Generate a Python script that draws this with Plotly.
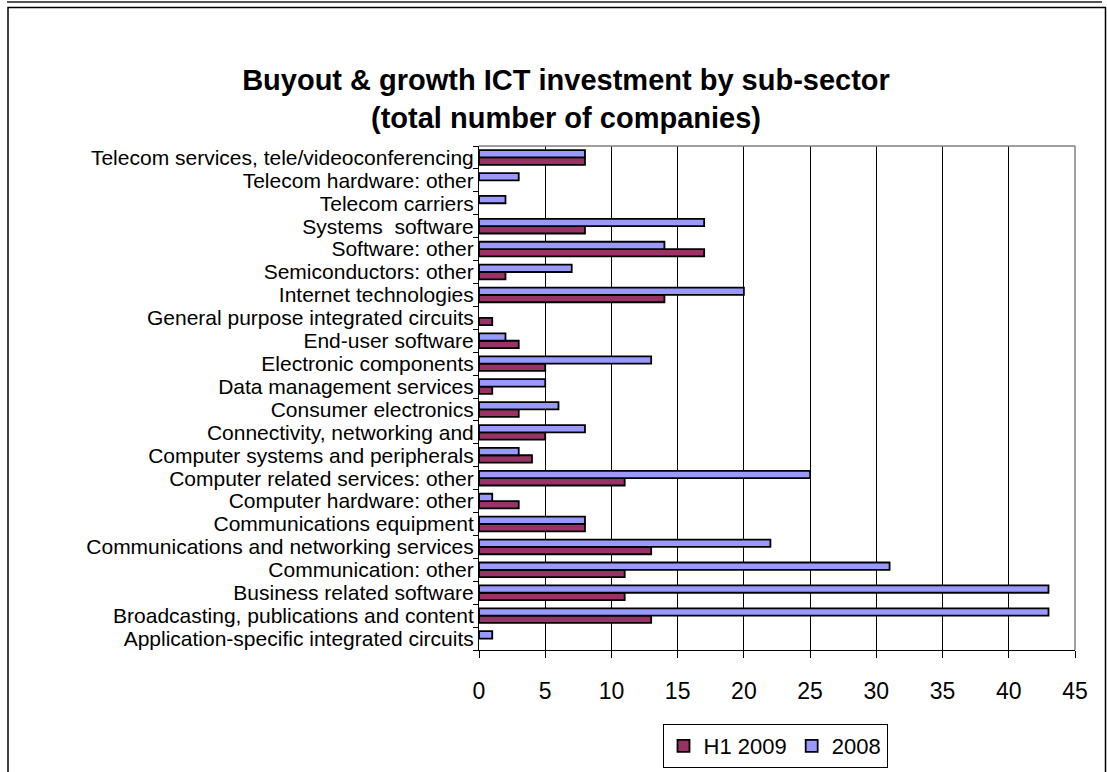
import plotly.graph_objects as go

# Categories listed bottom-to-top (Plotly draws the first category at the bottom)
categories = [
    "Application-specific integrated circuits",
    "Broadcasting, publications and content",
    "Business related software",
    "Communication: other",
    "Communications and networking services",
    "Communications equipment",
    "Computer hardware: other",
    "Computer related services: other",
    "Computer systems and peripherals",
    "Connectivity, networking and",
    "Consumer electronics",
    "Data management services",
    "Electronic components",
    "End-user software",
    "General purpose integrated circuits",
    "Internet technologies",
    "Semiconductors: other",
    "Software: other",
    "Systems  software",
    "Telecom carriers",
    "Telecom hardware: other",
    "Telecom services, tele/videoconferencing",
]
h1_2009 = [0, 13, 11, 11, 13, 8, 3, 11, 4, 5, 3, 1, 5, 3, 1, 14, 2, 17, 8, 0, 0, 8]
y2008 = [1, 43, 43, 31, 22, 8, 1, 25, 3, 8, 6, 5, 13, 2, 0, 20, 7, 14, 17, 2, 3, 8]
x_ticks = [0, 5, 10, 15, 20, 25, 30, 35, 40, 45]

FONT = "Liberation Sans, Arial, sans-serif"

fig = go.Figure()
fig.add_trace(go.Bar(
    name="H1 2009", y=categories, x=[v if v else None for v in h1_2009],
    orientation="h", marker=dict(color="#993366", line=dict(color="black", width=1.8)),
))
fig.add_trace(go.Bar(
    name="2008", y=categories, x=[v if v else None for v in y2008],
    orientation="h", marker=dict(color="#9999FF", line=dict(color="black", width=1.8)),
))

L, R, T, B = 479, 1075, 146, 650
W, H = 1107, 772

fig.update_layout(
    width=W, height=H,
    margin=dict(l=L, r=W - R, t=T, b=H - B, pad=0, autoexpand=False),
    paper_bgcolor="white", plot_bgcolor="white",
    barmode="group", bargap=0.36, bargroupgap=0,
    font=dict(family=FONT, size=23, color="black"),
    title=dict(
        text="<b>Buyout & growth ICT investment by sub-sector<br>(total number of companies)</b>",
        x=566 / W, xanchor="center", xref="container",
        y=1 - 90 / H, yanchor="top", yref="container",
        font=dict(family=FONT, size=29, color="black"),
    ),
    legend=dict(
        orientation="h", x=(775 - L) / (R - L), xanchor="center",
        y=(B - 746) / (B - T), yanchor="middle",
        bordercolor="black", borderwidth=1, bgcolor="white",
        font=dict(family=FONT, size=22, color="black"),
        traceorder="normal", itemwidth=30, tracegroupgap=0,
    ),
    showlegend=True,
)

fig.update_xaxes(
    range=[0, 45], tickvals=x_ticks, showgrid=True, gridcolor="black", gridwidth=1,
    showline=True, linecolor="black", linewidth=1, ticks="outside", ticklen=7,
    tickcolor="black", ticklabelstandoff=13, zeroline=False, automargin=False,
    tickfont=dict(family=FONT, size=23, color="black"), fixedrange=True,
)
fig.update_yaxes(
    type="category", categoryorder="array", categoryarray=categories,
    tickmode="array", tickvals=categories, ticktext=categories,
    showgrid=False, showline=True, linecolor="black", linewidth=1,
    ticks="outside", ticklen=5, tickcolor="black", tickson="boundaries",
    automargin=False,
    tickfont=dict(family=FONT, size=21, color="black"), fixedrange=True,
)

# plot-area frame (gray top and right edges)
fig.add_shape(type="line", xref="paper", yref="paper", x0=0, x1=1, y0=1, y1=1,
              line=dict(color="#808080", width=1.5))
fig.add_shape(type="line", xref="paper", yref="paper", x0=1, x1=1, y0=0, y1=1,
              line=dict(color="#808080", width=1.5))

# outer chart frame
px = lambda x: (x - L) / (R - L)
py = lambda y: (B - y) / (B - T)
fig.add_shape(type="rect", xref="paper", yref="paper",
              x0=px(8), x1=px(1105.5), y0=py(7.5), y1=py(800),
              line=dict(color="black", width=1.5), layer="below")
fig.add_shape(type="line", xref="paper", yref="paper",
              x0=px(7), x1=px(1102), y0=py(2), y1=py(2),
              line=dict(color="#555555", width=2))

fig.write_html(
    "out.html",
    config={"displayModeBar": False},
    post_script="document.body.style.margin='0';document.body.style.overflow='hidden';",
)
